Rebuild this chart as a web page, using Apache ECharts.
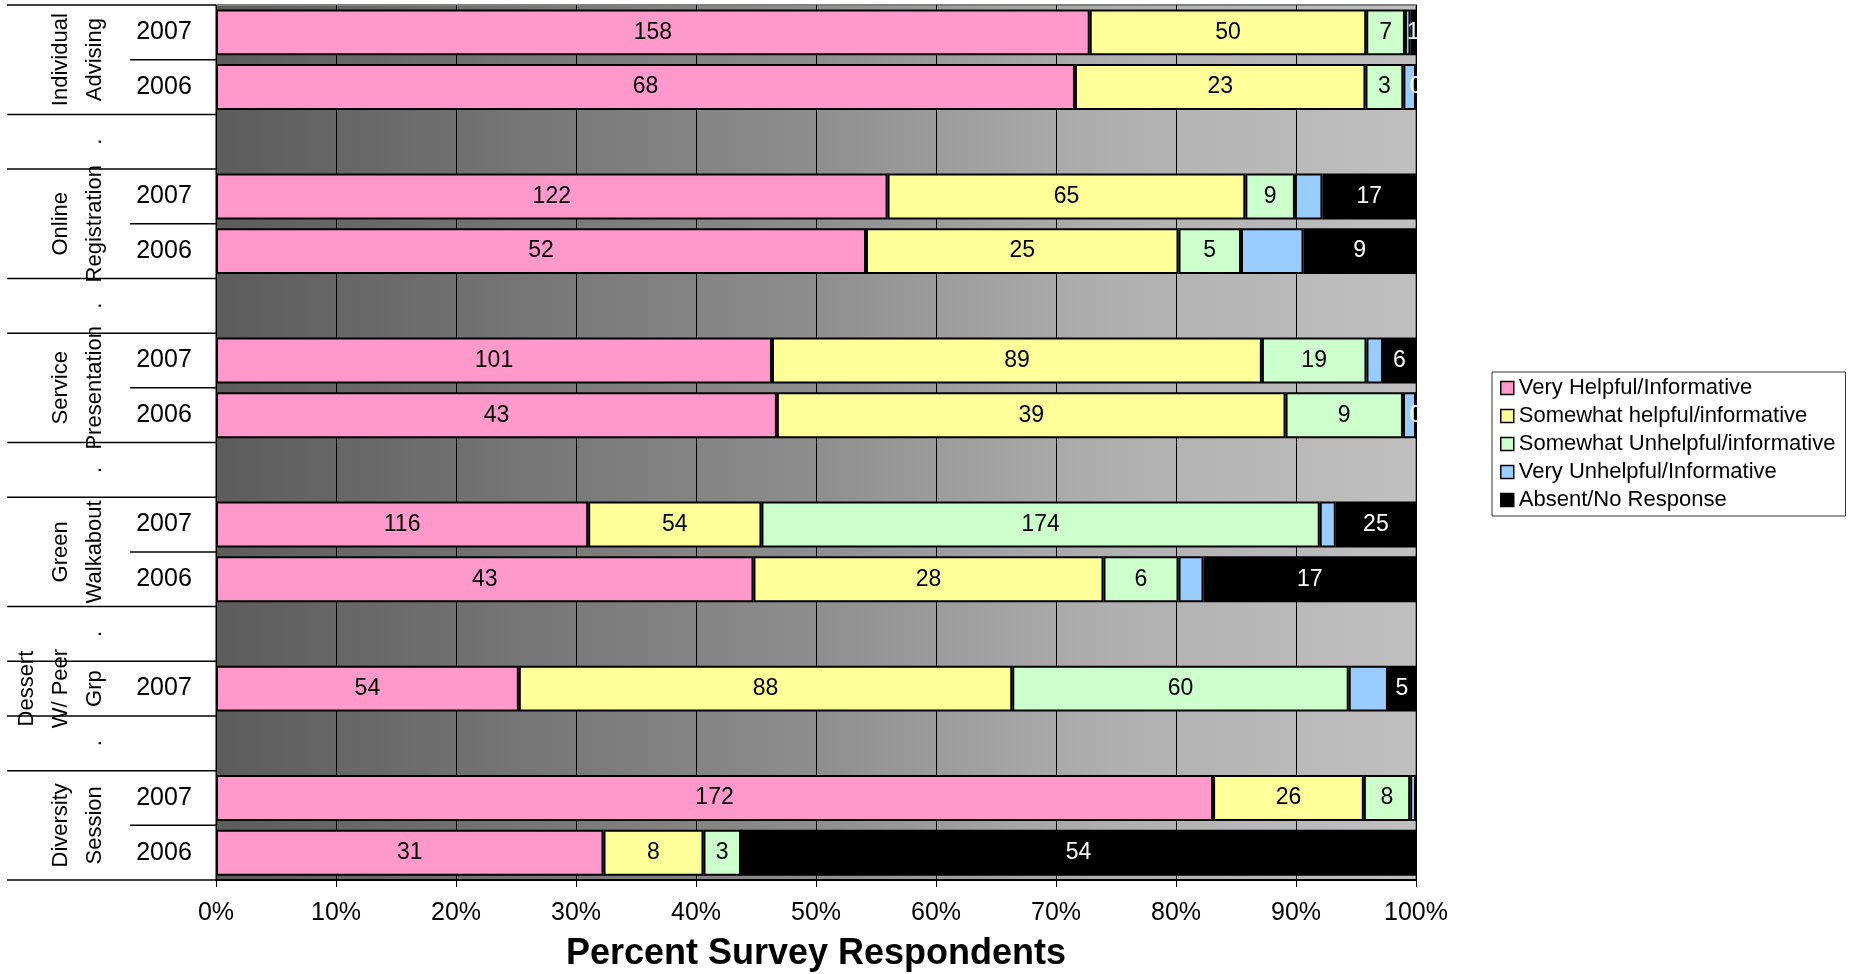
<!DOCTYPE html>
<html>
<head>
<meta charset="utf-8">
<title>Percent Survey Respondents</title>
<script src="https://cdn.jsdelivr.net/npm/echarts@6/dist/echarts.min.js"></script>
<style>
html, body { margin: 0; padding: 0; background: #fff; }
#chart { width: 1850px; height: 974px; }
</style>
</head>
<body>
<div id="chart"></div>
<script>
// rows from top to bottom, '' = blank spacer row between events
var years = ['2007', '2006', '', '2007', '2006', '', '2007', '2006', '', '2007', '2006', '', '2007', '', '2007', '2006'];

// event label, first row, last row
var events = [
    ['Individual\nAdvising', 0, 1],
    ['.', 2, 2],
    ['Online\nRegistration', 3, 4],
    ['.', 5, 5],
    ['Service\nPresentation', 6, 7],
    ['.', 8, 8],
    ['Green\nWalkabout', 9, 10],
    ['.', 11, 11],
    ['Dessert\nW/ Peer\nGrp', 12, 12],
    ['.', 13, 13],
    ['Diversity\nSession', 14, 15]
];

var seriesNames = ['Very Helpful/Informative', 'Somewhat helpful/informative', 'Somewhat Unhelpful/informative', 'Very Unhelpful/Informative', 'Absent/No Response'];

// respondent counts per row (null = spacer row)
var veryHelpful       = [158, 68, null, 122, 52, null, 101, 43, null, 116, 43, null, 54, null, 172, 31];
var somewhatHelpful   = [50, 23, null, 65, 25, null, 89, 39, null, 54, 28, null, 88, null, 26, 8];
var somewhatUnhelpful = [7, 3, null, 9, 5, null, 19, 9, null, 174, 6, null, 60, null, 8, 3];
var veryUnhelpful     = [1, 1, null, 5, 5, null, 3, 1, null, 5, 2, null, 7, null, 1, 0];
var absent            = [1, 0, null, 17, 9, null, 6, 0, null, 25, 17, null, 5, null, 0, 54];

var xMin = 0, xMax = 100, xStep = 10;

var colors = ['#FF99CC', '#FFFF99', '#CCFFCC', '#99CCFF', '#000000'];
var labelColors = ['#000', '#000', '#000', '#000', '#fff'];
var font = 'Liberation Sans, Arial, sans-serif';

var counts = [veryHelpful, somewhatHelpful, somewhatUnhelpful, veryUnhelpful, absent];
var totals = years.map(function (y, i) {
    if (veryHelpful[i] == null) return null;
    var s = 0;
    counts.forEach(function (arr) { s += arr[i]; });
    return s;
});
var groupStarts = events.map(function (e) { return e[1]; });

function toPercent(arr) {
    return arr.map(function (v, i) {
        if (v == null) return '-';
        return { value: v / totals[i] * 100, count: v };
    });
}

var chart = echarts.init(document.getElementById('chart'));

var series = counts.map(function (arr, k) {
    return {
        name: seriesNames[k],
        type: 'bar',
        stack: 'total',
        barCategoryGap: '16%',
        itemStyle: { color: colors[k], borderColor: '#000', borderWidth: 2 },
        label: {
            show: k !== 3,
            position: 'inside',
            color: labelColors[k],
            fontSize: 23,
            fontFamily: font,
            formatter: function (p) { return p.data.count; }
        },
        data: toPercent(arr)
    };
});

// divider lines in the label area, one per row
series.push({
    type: 'custom',
    silent: true,
    encode: { x: 0, y: 1 },
    data: years.map(function (y, i) { return [0, i]; }),
    renderItem: function (params, api) {
        var row = api.value(1);
        var c = api.coord([0, row]);
        var h = api.size([0, 1])[1];
        var cs = params.coordSys;
        var top = c[1] - h / 2;
        var full = groupStarts.indexOf(row) >= 0;
        var children = [{
            type: 'line',
            shape: { x1: cs.x - (full ? 209 : 86), y1: top, x2: cs.x, y2: top },
            style: { stroke: '#000', lineWidth: 1.5 }
        }];
        if (row === years.length - 1) {
            children.push({
                type: 'line',
                shape: { x1: cs.x - 209, y1: top + h, x2: cs.x, y2: top + h },
                style: { stroke: '#000', lineWidth: 1.5 }
            });
        }
        return { type: 'group', children: children };
    }
});

// rotated event names
series.push({
    type: 'custom',
    silent: true,
    encode: { x: 0, y: 1 },
    data: events.map(function (e) { return [0, e[1], e[2]]; }),
    renderItem: function (params, api) {
        var y = (api.coord([0, api.value(1)])[1] + api.coord([0, api.value(2)])[1]) / 2;
        var cs = params.coordSys;
        return {
            type: 'text',
            x: cs.x - 104,
            y: y,
            rotation: Math.PI / 2,
            style: {
                text: events[params.dataIndex][0],
                fill: '#000',
                fontSize: 22,
                fontFamily: font,
                lineHeight: 34,
                align: 'center',
                verticalAlign: 'bottom'
            }
        };
    }
});

var option = {
    animation: false,
    grid: {
        left: 216,
        right: 434,
        top: 5,
        bottom: 94,
        outerBoundsMode: 'none',
        containLabel: false,
        show: true,
        borderColor: '#808080',
        borderWidth: 2,
        backgroundColor: new echarts.graphic.LinearGradient(0, 0, 1, 0, [
            { offset: 0, color: '#5c5c5c' },
            { offset: 0.5, color: '#8e8e8e' },
            { offset: 0.75, color: '#b0b0b0' },
            { offset: 1, color: '#c0c0c0' }
        ])
    },
    legend: {
        orient: 'vertical',
        left: 1492,
        top: 372,
        data: seriesNames,
        icon: 'rect',
        itemWidth: 13,
        itemHeight: 13,
        itemGap: 6,
        itemStyle: { borderColor: '#000', borderWidth: 1.5 },
        textStyle: { fontSize: 22, color: '#000', fontFamily: font },
        borderColor: '#333',
        borderWidth: 1,
        borderRadius: 0,
        padding: [5, 10, 5, 8],
        selectedMode: false
    },
    xAxis: {
        type: 'value',
        min: xMin,
        max: xMax,
        interval: xStep,
        name: 'Percent Survey Respondents',
        nameLocation: 'middle',
        nameGap: 56,
        nameTextStyle: { fontSize: 36, fontWeight: 'bold', color: '#000', fontFamily: font },
        axisLine: { show: true, lineStyle: { color: '#000', width: 2 } },
        axisTick: { show: true, length: 7, lineStyle: { color: '#000' } },
        axisLabel: { formatter: '{value}%', fontSize: 25, color: '#000', fontFamily: font, margin: 21 },
        splitLine: { show: true, lineStyle: { color: '#000', width: 1 } }
    },
    yAxis: {
        type: 'category',
        inverse: true,
        data: years,
        axisLine: { show: false },
        axisTick: { show: false },
        axisLabel: { fontSize: 25, color: '#000', fontFamily: font, align: 'center', margin: 52 }
    },
    series: series
};

chart.setOption(option);
</script>
</body>
</html>
